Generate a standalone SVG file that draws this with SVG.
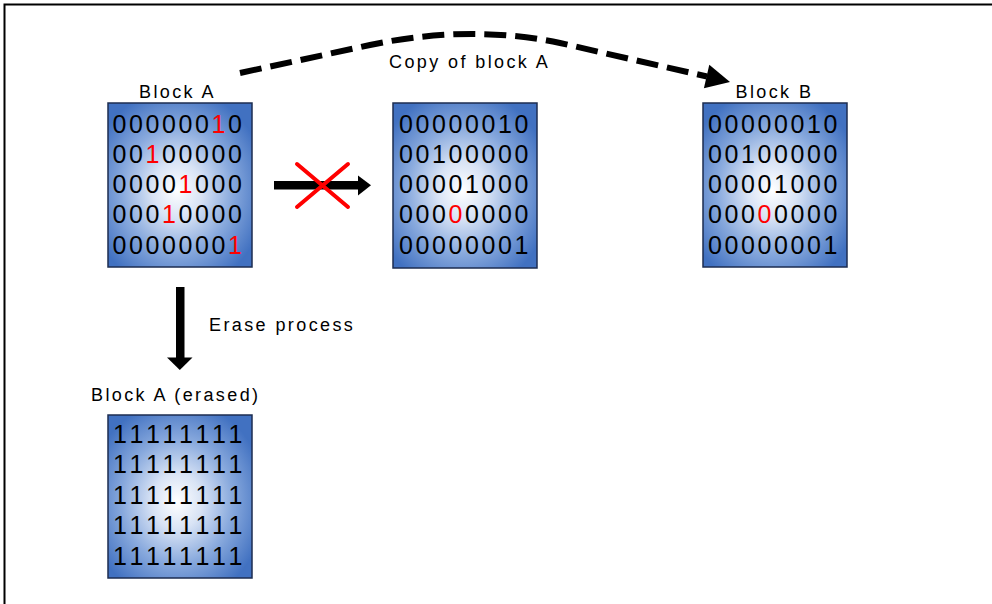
<svg xmlns="http://www.w3.org/2000/svg" width="992" height="604" viewBox="0 0 992 604">
<defs>
<radialGradient id="fillg" cx="0.48" cy="0.53" r="0.62">
<stop offset="0" stop-color="#ffffff"/>
<stop offset="0.28" stop-color="#d8e3f5"/>
<stop offset="0.62" stop-color="#88a9dd"/>
<stop offset="1" stop-color="#4171c1"/>
</radialGradient>
<style>
.blk{fill:url(#fillg);stroke:#1c2d50;stroke-width:1.5}
.bits{font-family:"Liberation Sans",Arial,sans-serif;font-size:25px;letter-spacing:2.6px;fill:#000;font-kerning:none;font-feature-settings:"kern" 0}
.lbl{font-family:"Liberation Sans",Arial,sans-serif;font-size:18px;letter-spacing:2.4px;fill:#000}
.r{fill:#ff0000}
.dash{fill:none;stroke:#000;stroke-width:6;stroke-dasharray:22 9}
.x{stroke:#ff0000;stroke-width:4;stroke-linecap:round}
</style>
</defs>
<rect x="0" y="0" width="992" height="604" fill="#ffffff"/>
<path d="M4.5,604 V4.5 H992" fill="none" stroke="#000" stroke-width="2"/>

<g id="blockA">
<text class="lbl" x="139" y="98">Block A</text>
<rect class="blk" x="108" y="103" width="144" height="164"/>
<text class="bits" x="112.5" y="132.5">000000<tspan class="r">1</tspan>0</text>
<text class="bits" x="112.5" y="162.8">00<tspan class="r">1</tspan>00000</text>
<text class="bits" x="112.5" y="193.1">0000<tspan class="r">1</tspan>000</text>
<text class="bits" x="112.5" y="223.4">000<tspan class="r">1</tspan>0000</text>
<text class="bits" x="112.5" y="253.7">0000000<tspan class="r">1</tspan></text>
</g>

<g id="blockCopy">
<rect class="blk" x="393" y="103" width="144" height="165"/>
<text class="bits" x="399" y="132.5">00000010</text>
<text class="bits" x="399" y="162.8">00100000</text>
<text class="bits" x="399" y="193.1">00001000</text>
<text class="bits" x="399" y="223.4">000<tspan class="r">0</tspan>0000</text>
<text class="bits" x="399" y="253.7">00000001</text>
</g>

<g id="blockB">
<text class="lbl" x="735.5" y="98">Block B</text>
<rect class="blk" x="703" y="103" width="144" height="164"/>
<text class="bits" x="708" y="132.5">00000010</text>
<text class="bits" x="708" y="162.8">00100000</text>
<text class="bits" x="708" y="193.1">00001000</text>
<text class="bits" x="708" y="223.4">000<tspan class="r">0</tspan>0000</text>
<text class="bits" x="708" y="253.7">00000001</text>
</g>

<g id="blockErased">
<text class="lbl" x="91" y="400.5">Block A (erased)</text>
<rect class="blk" x="108" y="415" width="144" height="163"/>
<text class="bits" x="113" y="442.5">11111111</text>
<text class="bits" x="113" y="473">11111111</text>
<text class="bits" x="113" y="503.5">11111111</text>
<text class="bits" x="113" y="534">11111111</text>
<text class="bits" x="113" y="564.5">11111111</text>
</g>

<g id="connectors">
<path class="dash" d="M240,73 L370,45 Q470,24 560,43 L707,76.5"/>
<polygon points="730,82 709.3,64.8 703.9,88.2" fill="#000"/>
<text class="lbl" x="389" y="68">Copy of block A</text>

<rect x="274" y="181" width="86" height="8.5" fill="#000"/>
<polygon points="358,175.5 371,185.3 358,195.5" fill="#000"/>
<line class="x" x1="297" y1="164" x2="348" y2="207"/>
<line class="x" x1="348" y1="164" x2="297" y2="207"/>

<rect x="176" y="287" width="8.5" height="72" fill="#000"/>
<polygon points="167,357.5 192.5,357.5 179.8,370" fill="#000"/>
<text class="lbl" x="209" y="331">Erase process</text>
</g>
</svg>
